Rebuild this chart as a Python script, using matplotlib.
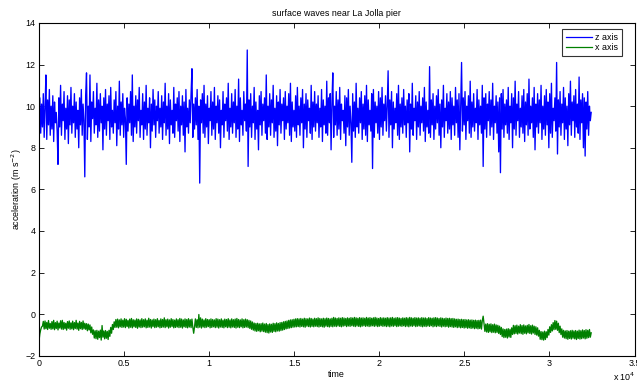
import numpy as np
import matplotlib.pyplot as plt

plt.rcParams['font.family'] = ['Liberation Sans', 'DejaVu Sans']

# vertical acceleration in tenths of m/s^2 (~51 time steps apart)
z_tenths = [
    94, 104, 87, 101, 90, 106, 85, 99, 115, 84, 103, 91, 108, 86, 100, 89, 105, 83, 102, 92,
    97, 88, 72, 104, 90, 110, 86, 101, 93, 107, 84, 99, 89, 105, 82, 103, 91, 109, 87, 100,
    92, 106, 85, 102, 89, 98, 80, 104, 91, 108, 86, 101, 93, 66, 105, 116, 84, 100, 90, 115,
    83, 102, 94, 107, 87, 99, 91, 111, 85, 103, 88, 106, 92, 100, 79, 104, 89, 108, 86, 101,
    93, 105, 84, 109, 90, 98, 87, 103, 92, 107, 81, 100, 89, 112, 86, 102, 91, 106, 85, 99,
    94, 72, 104, 88, 101, 92, 107, 86, 115, 83, 100, 90, 105, 87, 103, 93, 109, 85, 98, 91,
    106, 84, 102, 89, 110, 86, 99, 92, 104, 80, 101, 88, 108, 91, 103, 85, 100, 93, 107, 87,
    99, 90, 105, 84, 102, 92, 111, 86, 100, 89, 106, 82, 103, 91, 98, 87, 109, 85, 101, 93,
    104, 88, 107, 83, 100, 91, 105, 86, 102, 78, 108, 90, 99, 87, 103, 92, 106, 118, 85, 101,
    89, 104, 91, 108, 84, 100, 63, 103, 92, 106, 87, 110, 85, 101, 90, 105, 82, 99, 93, 107,
    86, 102, 89, 109, 84, 100, 92, 105, 87, 103, 80, 98, 91, 107, 85, 101, 93, 104, 88, 111,
    84, 99, 90, 106, 87, 102, 92, 108, 85, 100, 89, 113, 83, 104, 91, 98, 86, 107, 93, 101,
    88, 127, 71, 103, 90, 106, 85, 100, 92, 109, 84, 102, 89, 98, 79, 105, 91, 107, 86, 101,
    93, 104, 87, 115, 84, 100, 90, 106, 86, 103, 92, 110, 85, 99, 88, 105, 81, 102, 91, 108,
    87, 101, 93, 104, 84, 107, 89, 100, 92, 106, 86, 111, 83, 102, 90, 98, 88, 105, 85, 109,
    91, 100, 86, 104, 92, 108, 80, 101, 89, 106, 85, 103, 93, 99, 87, 110, 84, 102, 90, 107,
    88, 101, 92, 105, 85, 99, 90, 108, 83, 103, 91, 100, 87, 112, 86, 104, 92, 106, 79, 102,
    116, 85, 100, 91, 107, 86, 103, 89, 109, 84, 101, 93, 98, 87, 105, 81, 104, 90, 108, 86,
    100, 92, 73, 106, 88, 102, 85, 111, 90, 99, 87, 104, 92, 107, 84, 101, 89, 105, 86, 110,
    83, 103, 91, 98, 88, 106, 70, 108, 85, 102, 92, 100, 87, 107, 84, 104, 90, 109, 86, 101,
    93, 105, 88, 100, 117, 85, 103, 91, 107, 80, 102, 89, 99, 92, 106, 86, 110, 84, 101, 90,
    104, 87, 108, 91, 100, 85, 103, 92, 106, 78, 101, 89, 111, 86, 99, 93, 105, 84, 102, 90,
    107, 86, 100, 92, 104, 88, 109, 83, 102, 90, 98, 87, 119, 85, 103, 91, 106, 84, 100, 89,
    105, 92, 108, 86, 101, 80, 103, 90, 110, 85, 99, 93, 106, 87, 102, 89, 107, 84, 104, 91,
    100, 86, 109, 92, 103, 85, 106, 79, 101, 121, 88, 104, 91, 107, 84, 100, 93, 105, 87, 112,
    85, 102, 90, 106, 88, 99, 92, 108, 84, 103, 91, 100, 87, 110, 71, 104, 89, 106, 85, 101,
    93, 107, 86, 103, 90, 111, 84, 100, 92, 105, 87, 102, 78, 104, 68, 106, 89, 108, 85, 101,
    91, 103, 87, 109, 84, 100, 92, 106, 80, 104, 89, 112, 86, 101, 93, 107, 85, 99, 90, 105,
    87, 108, 83, 102, 91, 106, 86, 113, 89, 100, 92, 104, 85, 109, 79, 101, 90, 106, 87, 103,
    92, 110, 84, 100, 89, 105, 86, 108, 91, 102, 80, 106, 87, 111, 85, 99, 93, 104, 88, 121,
    77, 103, 90, 107, 86, 101, 92, 109, 84, 104, 89, 100, 81, 106, 91, 112, 86, 102, 93, 105,
    85, 108, 90, 101, 87, 114, 84, 103, 92, 106, 80, 104, 76, 102, 89, 107, 86, 100, 93, 97,
]

# horizontal acceleration in hundredths of m/s^2, same sampling
x_hundredths = [
    -130, -95, -75, -62, -58, -35, -72, -33, -70, -40, -74, -31, -68, -45, -73, -36, -71, -30, -75, -41,
    -69, -34, -76, -43, -67, -32, -72, -30, -74, -40, -70, -44, -77, -36, -68, -33, -73, -42, -71, -34,
    -75, -41, -69, -30, -72, -43, -78, -35, -70, -40, -74, -33, -71, -44, -73, -46, -80, -48, -76, -52,
    -90, -62, -97, -76, -115, -80, -118, -78, -121, -82, -113, -77, -125, -55, -111, -81, -119, -79, -116, -83,
    -122, -78, -107, -64, -92, -50, -74, -37, -64, -26, -63, -24, -66, -28, -61, -23, -64, -29, -62, -22,
    -65, -25, -60, -30, -67, -24, -63, -21, -66, -27, -61, -29, -64, -23, -68, -25, -62, -28, -65, -22,
    -63, -27, -61, -23, -66, -29, -64, -20, -62, -26, -67, -28, -60, -24, -65, -27, -63, -22, -61, -30,
    -66, -23, -64, -26, -62, -18, -65, -27, -61, -24, -67, -28, -63, -22, -60, -26, -66, -29, -64, -23,
    -62, -27, -65, -21, -63, -24, -67, -28, -61, -23, -64, -26, -66, -22, -62, -27, -65, -24, -63, -92,
    -61, -23, -64, -27, -66, -2, -63, -18, -67, -24, -62, -28, -65, -22, -63, -26, -60, -27, -66, -23,
    -64, -26, -61, -28, -65, -22, -63, -24, -67, -27, -62, -23, -64, -29, -66, -24, -61, -26, -65, -22,
    -63, -28, -66, -23, -62, -27, -64, -24, -67, -21, -63, -26, -65, -28, -61, -23, -66, -27, -64, -24,
    -62, -27, -65, -30, -69, -33, -73, -38, -77, -43, -81, -45, -83, -44, -80, -47, -85, -46, -82, -43,
    -84, -48, -87, -45, -89, -50, -91, -47, -86, -49, -88, -44, -83, -46, -85, -42, -81, -45, -82, -41,
    -79, -40, -77, -37, -74, -35, -71, -33, -69, -30, -67, -28, -65, -27, -63, -25, -62, -23, -61, -22,
    -60, -23, -62, -21, -59, -24, -61, -20, -63, -22, -58, -23, -60, -19, -62, -21, -59, -24, -61, -20,
    -58, -22, -60, -18, -62, -21, -59, -23, -61, -20, -63, -22, -58, -19, -60, -21, -62, -23, -59, -20,
    -61, -16, -58, -19, -60, -21, -57, -18, -59, -20, -61, -17, -58, -19, -56, -21, -60, -18, -57, -20,
    -59, -17, -56, -19, -58, -16, -60, -18, -57, -20, -59, -17, -61, -19, -58, -18, -56, -20, -59, -16,
    -57, -19, -60, -17, -58, -20, -56, -18, -59, -16, -57, -19, -60, -21, -58, -17, -56, -19, -59, -18,
    -57, -20, -60, -17, -58, -19, -61, -18, -57, -16, -59, -20, -56, -18, -60, -17, -58, -19, -57, -21,
    -59, -18, -56, -20, -60, -17, -58, -19, -61, -16, -57, -18, -59, -20, -56, -17, -60, -19, -58, -18,
    -57, -20, -59, -17, -61, -19, -58, -18, -60, -21, -57, -17, -59, -19, -56, -20, -61, -18, -58, -17,
    -60, -19, -57, -21, -59, -18, -62, -20, -58, -22, -61, -19, -59, -21, -63, -20, -60, -22, -62, -21,
    -64, -23, -61, -25, -65, -24, -63, -26, -66, -25, -64, -27, -67, -26, -65, -28, -68, -27, -66, -29,
    -69, -28, -67, -30, -70, -29, -68, -31, -71, -30, -69, -29, -72, -32, -10, -46, -83, -48, -86, -46,
    -88, -49, -85, -47, -89, -51, -87, -48, -90, -52, -88, -54, -93, -58, -98, -64, -108, -71, -113, -74,
    -111, -72, -115, -70, -110, -73, -112, -66, -98, -54, -95, -56, -93, -53, -96, -58, -91, -51, -94, -55,
    -97, -52, -92, -57, -95, -54, -90, -50, -93, -56, -96, -53, -91, -58, -98, -61, -101, -66, -106, -78,
    -121, -84, -123, -86, -125, -82, -122, -85, -113, -74, -101, -61, -88, -51, -81, -41, -75, -31, -73, -34,
    -78, -44, -89, -58, -98, -71, -111, -78, -115, -81, -118, -79, -121, -82, -117, -80, -120, -78, -116, -81,
    -119, -79, -122, -82, -117, -77, -120, -80, -118, -76, -115, -79, -119, -75, -116, -78, -113, -74, -111, -90,
]

t_end = 32450
z_axis = np.array(z_tenths) / 10.0
x_axis = np.array(x_hundredths) / 100.0
time = np.linspace(0, t_end, len(z_axis))

fig = plt.figure(figsize=(6.37, 3.86), dpi=100)
ax = fig.add_axes([0.0612, 0.0785, 0.935, 0.862])

ax.plot(time, z_axis, color=(0, 0, 1), lw=0.95, label='z axis')
ax.plot(time, x_axis, color=(0, 0.5, 0), lw=0.95, label='x axis')

ax.set_xlim(0, 35000)
ax.set_ylim(-2, 14)
ax.set_xticks(np.arange(0, 35001, 5000))
ax.set_xticklabels(['0', '0.5', '1', '1.5', '2', '2.5', '3', '3.5'])
ax.set_yticks(np.arange(-2, 15, 2))
ax.tick_params(direction='in', top=True, right=True, length=3.5, width=0.6,
               labelsize=6.4, pad=2.5)
for s in ax.spines.values():
    s.set_linewidth(0.8)

ax.set_title('surface waves near La Jolla pier', fontsize=6.4, pad=5)
ax.set_xlabel('time', fontsize=6.4, labelpad=1)
ax.set_ylabel('acceleration (m s$^{-2}$)', fontsize=6.4, labelpad=1)
fig.text(0.962, 0.0135, 'x 10$^4$', fontsize=6.4)

leg = ax.legend(loc='upper right', bbox_to_anchor=(0.979, 0.982), borderaxespad=0,
                fontsize=6.4, frameon=True, fancybox=False, handlelength=2.9,
                labelspacing=0.15, handletextpad=0.35, borderpad=0.45)
leg.get_frame().set_edgecolor('black')
leg.get_frame().set_linewidth(0.8)
for h in leg.get_lines():
    h.set_linewidth(0.9)

fig.savefig('out.png', dpi=100)
